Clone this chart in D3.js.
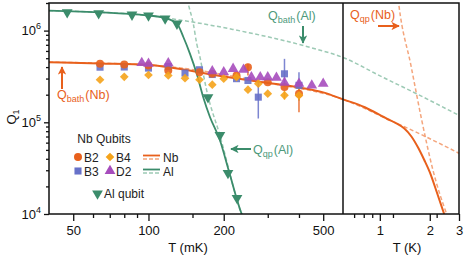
<!DOCTYPE html>
<html>
<head>
<meta charset="utf-8">
<script src="https://cdn.jsdelivr.net/npm/d3@7"></script>
<style>
  html, body { margin: 0; padding: 0; background: #fff; }
  svg { display: block; font-family: "Liberation Sans", Arial, sans-serif; }
</style>
</head>
<body>
<svg id="chart" width="466" height="256"></svg>
<script>
// ---------- data (T of points in mK, T of curves in K) ----------
const yMajor = [1e4, 1e5, 1e6];
const xMajorL = [50, 100, 200, 500];
const xMinorL = [60, 70, 80, 90, 150, 300, 400];
const xMajorR = [1, 2, 3];
const xMinorR = [0.7, 0.8, 0.9, 1.2, 2.2];

// Nb qubits: [T mK, Q, errLow, errHigh]
const B2 = [[64, 4.35e5], [80, 4.27e5], [100, 4.17e5], [120, 3.67e5], [160, 3.52e5], [180, 3.38e5],
  [225, 3.24e5], [250, 3.99e5, 3.24e5, 4.35e5], [300, 2.74e5], [350, 2.42e5], [400, 2.05e5, 1.29e5, 2.34e5]];
const B3 = [[64, 3.99e5], [80, 4.01e5], [100, 3.9e5], [120, 4.06e5], [140, 3.44e5], [160, 3.74e5],
  [180, 3.32e5], [225, 2.99e5], [250, 2.86e5], [275, 1.88e5, 1.10e5, 2.74e5], [350, 3.38e5, 2.53e5, 4.92e5],
  [400, 2.53e5, 1.73e5, 3.52e5]];
const B4 = [[64, 2.91e5], [80, 3.13e5], [100, 3.28e5], [120, 3.24e5], [140, 3.03e5], [160, 2.91e5],
  [180, 2.57e5], [200, 2.99e5], [225, 3.11e5], [250, 2.27e5], [275, 2.64e5], [300, 2.05e5],
  [350, 1.97e5, 1.77e5, 2.23e5], [400, 1.97e5, 1.73e5, 2.32e5]];
const D2 = [[94, 4.44e5], [100, 4.35e5], [120, 4.42e5], [180, 3.61e5], [200, 3.52e5], [218, 3.83e5],
  [240, 3.74e5], [258, 3.11e5], [280, 3.11e5], [300, 3.11e5], [325, 3.06e5], [350, 2.70e5],
  [400, 2.64e5], [450, 2.53e5], [500, 2.64e5]];
const alQubit = [[47.3, 1.58e6], [63.2, 1.54e6], [85.9, 1.49e6], [100, 1.46e6], [116.6, 1.35e6],
  [130, 1.19e6], [173, 1.87e5], [193, 7.23e4], [208, 2.79e4], [226, 1.49e4]];

// model curves [T K, Q]
const nbTotal = [[0.040, 4.52e5], [0.064, 4.38e5], [0.100, 4.22e5], [0.200, 3.16e5], [0.300, 2.69e5],
  [0.400, 2.40e5], [0.500, 2.12e5], [0.600, 1.78e5], [0.812, 1.46e5], [1.117, 1.08e5], [1.25, 9.8e4],
  [1.40, 8.6e4], [1.55, 7.0e4], [1.70, 5.3e4], [1.85, 3.9e4], [2.0, 2.86e4], [2.2, 1.75e4],
  [2.46, 9.6e3]];
const nbBath = [[0.040, 4.52e5], [0.100, 4.22e5], [0.300, 2.69e5], [0.600, 1.78e5],
  [1.117, 1.08e5], [1.866, 7.05e4], [3.0, 4.60e4]];
const nbQp = [[1.29, 2.2e6], [1.30, 1.96e6], [1.54, 4.17e5], [1.79, 1.05e5], [2.09, 3.01e4], [2.53, 1.0e4], [2.6, 8.8e3]];
const alTotal = [[0.040, 1.65e6], [0.100, 1.46e6], [0.1166, 1.37e6], [0.130, 1.19e6], [0.138, 8.46e5],
  [0.1466, 5.58e5], [0.156, 3.38e5], [0.1656, 1.88e5], [0.176, 1.15e5], [0.193, 6.4e4],
  [0.210, 2.9e4], [0.236, 1.0e4], [0.242, 8.5e3]];
const alBath = [[0.040, 1.65e6], [0.100, 1.46e6], [0.1166, 1.38e6], [0.2175, 1.03e6], [0.441, 6.58e5],
  [0.600, 5.09e5], [1.042, 3.10e5], [1.664, 2.05e5], [3.0, 1.19e5]];
const alQp = [[0.143, 2.2e6], [0.1443, 1.96e6], [0.1511, 1.19e6], [0.1559, 7.22e5], [0.1607, 5.13e5],
  [0.1656, 3.38e5], [0.1709, 2.23e5], [0.193, 7.23e4], [0.236, 1.0e4], [0.242, 8.5e3]];

// ---------- setup ----------
const C = {
  nb: '#e8601c', nbLight: '#f4a57c', b3: '#6771c9', b4: '#f5a31b', d2: '#a64cbc',
  al: '#3b8c6b', alLight: '#9dcab5'
};
const F = { left: 49, mid: 343, right: 459, top: 3, bottom: 214 };

const svg = d3.select('#chart');
const xL = d3.scaleLog().domain([40, 600]).range([F.left, F.mid]);   // mK
const xR = d3.scaleLog().domain([0.6, 3]).range([F.mid, F.right]);   // K
const y = d3.scaleLog().domain([1e4, 2e6]).range([F.bottom, F.top]);
const xT = (tK) => (tK <= 0.6 ? xL(tK * 1000) : xR(tK));

svg.append('defs').append('clipPath').attr('id', 'clip')
  .append('rect').attr('x', F.left).attr('y', F.top)
  .attr('width', F.right - F.left).attr('height', F.bottom - F.top);

// ---------- axes ----------
const tickStyle = (g) => {
  g.select('.domain').remove();
  g.selectAll('.tick line').attr('stroke', '#111').attr('stroke-width', 1.3);
  g.selectAll('.tick text').attr('fill', '#111').attr('font-size', 13);
};

svg.append('g').attr('transform', `translate(${F.left},0)`)
  .call(d3.axisLeft(y).tickValues(d3.range(2, 10).flatMap((k) => [k * 1e4, k * 1e5]).concat([2e6])).tickSize(3).tickFormat(''))
  .call(tickStyle);
const yAx = svg.append('g').attr('transform', `translate(${F.left},0)`)
  .call(d3.axisLeft(y).tickValues(yMajor).tickSize(5).tickPadding(3))
  .call(tickStyle);
yAx.selectAll('.tick text').each(function (d) {
  const t = d3.select(this).text('');
  t.append('tspan').text('10');
  t.append('tspan').attr('dy', -6).attr('font-size', 9).text(Math.round(Math.log10(d)));
});

svg.append('g').attr('transform', `translate(0,${F.bottom})`)
  .call(d3.axisBottom(xL).tickValues(xMinorL).tickSize(4).tickFormat('')).call(tickStyle);
svg.append('g').attr('transform', `translate(0,${F.bottom})`)
  .call(d3.axisBottom(xL).tickValues(xMajorL).tickSize(7).tickPadding(5).tickFormat(d3.format('d'))).call(tickStyle);
svg.append('g').attr('transform', `translate(0,${F.bottom})`)
  .call(d3.axisBottom(xR).tickValues(xMinorR).tickSize(4).tickFormat('')).call(tickStyle);
svg.append('g').attr('transform', `translate(0,${F.bottom})`)
  .call(d3.axisBottom(xR).tickValues(xMajorR).tickSize(7).tickPadding(5).tickFormat(d3.format('d'))).call(tickStyle);

// axis titles
svg.append('text').attr('x', 188).attr('y', 252).attr('text-anchor', 'middle')
  .attr('font-size', 13).attr('fill', '#111').text('T (mK)');
svg.append('text').attr('x', 407).attr('y', 252).attr('text-anchor', 'middle')
  .attr('font-size', 13).attr('fill', '#111').text('T (K)');
const yl = svg.append('text').attr('transform', 'translate(16,117) rotate(-90)')
  .attr('text-anchor', 'middle').attr('font-size', 13).attr('fill', '#111');
yl.append('tspan').text('Q');
yl.append('tspan').attr('dy', 3).attr('font-size', 9).text('1');

// ---------- curves ----------
const plot = svg.append('g').attr('clip-path', 'url(#clip)');
const line = d3.line().x((d) => xT(d[0])).y((d) => y(d[1])).curve(d3.curveMonotoneX);
const drawCurve = (data, color, w, dash) => plot.append('path')
  .attr('d', line(data)).attr('fill', 'none').attr('stroke', color)
  .attr('stroke-width', w).attr('stroke-dasharray', dash || null);

drawCurve(alBath, C.alLight, 1.5, '4,2.5');
drawCurve(alQp, C.alLight, 1.5, '4,2.5');
drawCurve(nbBath, C.nbLight, 1.5, '4,2.5');
drawCurve(nbQp, C.nbLight, 1.5, '4,2.5');

// ---------- markers ----------
const sym = {
  circle: { p: d3.symbol().type(d3.symbolCircle).size(50), t: '' },
  square: { p: d3.symbol().type(d3.symbolSquare).size(50), t: '' },
  diamond: { p: d3.symbol().type(d3.symbolSquare).size(38), t: ' rotate(45)' },
  tri: { p: d3.symbol().type(d3.symbolTriangle).size(50), t: '' },
  down: { p: d3.symbol().type(d3.symbolTriangle).size(50), t: ' rotate(180)' }
};
const series = [
  { data: B3, color: C.b3, shape: 'square' },
  { data: B2, color: C.nb, shape: 'circle' },
  { data: D2, color: C.d2, shape: 'tri' },
  { data: B4, color: C.b4, shape: 'diamond' }
];

// error bars first
series.forEach((s) => {
  plot.selectAll(null).data(s.data.filter((d) => d.length > 2)).enter().append('line')
    .attr('x1', (d) => xL(d[0])).attr('x2', (d) => xL(d[0]))
    .attr('y1', (d) => y(d[2])).attr('y2', (d) => y(d[3]))
    .attr('stroke', s.color).attr('stroke-width', 1.5).attr('opacity', 0.85);
});

drawCurve(nbTotal, C.nb, 2);
drawCurve(alTotal, C.al, 1.8);

series.forEach((s) => {
  plot.selectAll(null).data(s.data).enter().append('path')
    .attr('d', sym[s.shape].p())
    .attr('transform', (d) => `translate(${xL(d[0])},${y(d[1])})${sym[s.shape].t}`)
    .attr('fill', s.color).attr('opacity', 0.9);
});

plot.selectAll(null).data(alQubit).enter().append('path')
  .attr('d', sym.down.p())
  .attr('transform', (d) => `translate(${xL(d[0])},${y(d[1])})${sym.down.t}`)
  .attr('fill', C.al);

// ---------- frame ----------
svg.append('rect').attr('x', F.left).attr('y', F.top)
  .attr('width', F.right - F.left).attr('height', F.bottom - F.top)
  .attr('fill', 'none').attr('stroke', '#111').attr('stroke-width', 1.5);
svg.append('line').attr('x1', F.mid).attr('x2', F.mid).attr('y1', F.top).attr('y2', F.bottom)
  .attr('stroke', '#111').attr('stroke-width', 1.5);

// ---------- legend ----------
const lg = svg.append('g').attr('font-size', 12).attr('fill', '#222');
lg.append('text').attr('x', 104).attr('y', 143).attr('text-anchor', 'middle').text('Nb Qubits');
const legendItems = [
  { label: 'B2', shape: 'circle', color: C.nb, x: 78, y: 157 },
  { label: 'B4', shape: 'diamond', color: C.b4, x: 110, y: 157 },
  { label: 'B3', shape: 'square', color: C.b3, x: 78, y: 171 },
  { label: 'D2', shape: 'tri', color: C.d2, x: 110, y: 171 }
];
legendItems.forEach((it) => {
  lg.append('path').attr('d', sym[it.shape].p())
    .attr('transform', `translate(${it.x},${it.y})${sym[it.shape].t}`)
    .attr('fill', it.color);
  lg.append('text').attr('x', it.x + 6).attr('y', it.y + 4.5).text(it.label);
});
[{ label: 'Nb', c: C.nb, cl: C.nbLight, y: 155.5 }, { label: 'Al', c: C.al, cl: C.alLight, y: 169.5 }]
  .forEach((it) => {
    lg.append('line').attr('x1', 143).attr('x2', 160).attr('y1', it.y).attr('y2', it.y)
      .attr('stroke', it.c).attr('stroke-width', 1.8);
    lg.append('line').attr('x1', 143).attr('x2', 160).attr('y1', it.y + 3.5).attr('y2', it.y + 3.5)
      .attr('stroke', it.cl).attr('stroke-width', 1.5).attr('stroke-dasharray', '4,2');
    lg.append('text').attr('x', 163).attr('y', it.y + 6).text(it.label);
  });
lg.append('path').attr('d', sym.down.p()).attr('transform', `translate(97.5,193.5)${sym.down.t}`).attr('fill', C.al);
lg.append('text').attr('x', 104).attr('y', 198).text('Al qubit');

// ---------- annotations ----------
const defs = svg.select('defs');
[['headNb', C.nb], ['headAl', C.al]].forEach(([id, c]) => {
  defs.append('marker').attr('id', id).attr('viewBox', '0 0 10 10').attr('refX', 9).attr('refY', 5)
    .attr('markerWidth', 4.2).attr('markerHeight', 4.2).attr('orient', 'auto')
    .append('path').attr('d', 'M0,0L10,5L0,10L2.5,5Z').attr('fill', c);
});
const arrow = (x1, y1, x2, y2, head, c) => svg.append('line')
  .attr('x1', x1).attr('y1', y1).attr('x2', x2).attr('y2', y2)
  .attr('stroke', c).attr('stroke-width', 2).attr('marker-end', `url(#${head})`);
const label = (x, yb, sub, tail, c) => {
  const t = svg.append('text').attr('x', x).attr('y', yb).attr('font-size', 12.5).attr('fill', c);
  t.append('tspan').text('Q');
  t.append('tspan').attr('dy', 3).attr('font-size', 9).text(sub);
  t.append('tspan').attr('dy', -3).attr('dx', 1).text(tail);
};
label(57, 99, 'bath', '(Nb)', C.nb);
arrow(62, 89, 62, 67, 'headNb', C.nb);
label(268, 20, 'bath', '(Al)', '#4e9a7b');
arrow(303, 26, 303, 43, 'headAl', C.al);
label(350, 19, 'qp', '(Nb)', C.nb);
arrow(378, 26, 399, 26, 'headNb', C.nb);
label(253, 154, 'qp', '(Al)', '#4e9a7b');
arrow(251, 149, 231, 149, 'headAl', C.al);
</script>
</body>
</html>
